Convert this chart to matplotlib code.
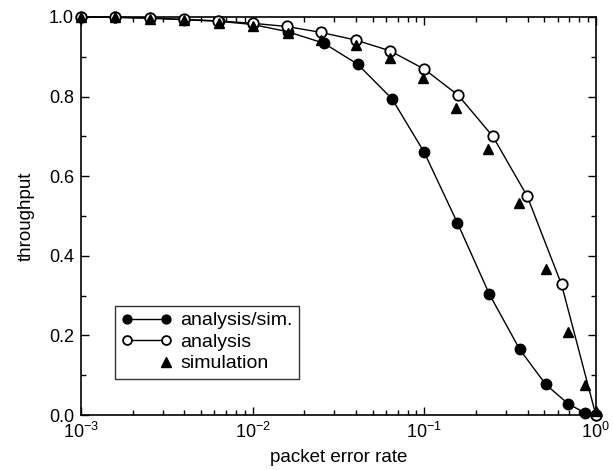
import numpy as np
import matplotlib
matplotlib.use("Agg")
import matplotlib.pyplot as plt
from matplotlib.legend_handler import HandlerLine2D
from matplotlib.ticker import LogLocator, MultipleLocator, FormatStrFormatter

plt.rcParams['font.family'] = ['Liberation Sans', 'DejaVu Sans']
plt.rcParams['mathtext.fontset'] = 'custom'
plt.rcParams['mathtext.rm'] = 'Liberation Sans'
plt.rcParams['mathtext.it'] = 'Liberation Sans'
plt.rcParams['mathtext.default'] = 'regular'

# analysis (open circles)
x_analysis = [0.001, 0.00158, 0.00251, 0.00398, 0.00631, 0.01, 0.0158, 0.0251,
              0.0398, 0.0631, 0.1, 0.158, 0.251, 0.398, 0.631, 1.0]
y_analysis = [1.0, 0.999, 0.997, 0.994, 0.990, 0.984, 0.976, 0.961,
              0.942, 0.915, 0.869, 0.803, 0.700, 0.550, 0.328, 0.0]

# analysis/sim. (filled circles)
x_asim = [0.001, 0.00158, 0.00251, 0.00398, 0.0064, 0.01, 0.016, 0.026,
          0.041, 0.065, 0.1, 0.156, 0.24, 0.36, 0.51, 0.69, 0.86, 1.0]
y_asim = [1.0, 0.999, 0.997, 0.993, 0.989, 0.981, 0.963, 0.934,
          0.881, 0.794, 0.660, 0.483, 0.303, 0.165, 0.077, 0.028, 0.006, 0.0]

# simulation (triangles)
x_sim = [0.001, 0.00158, 0.00251, 0.00398, 0.0064, 0.01, 0.016, 0.025,
         0.04, 0.063, 0.099, 0.153, 0.236, 0.355, 0.515, 0.69, 0.86, 1.0]
y_sim = [1.0, 0.999, 0.996, 0.992, 0.985, 0.976, 0.960, 0.943,
         0.930, 0.896, 0.846, 0.772, 0.668, 0.532, 0.368, 0.209, 0.076, 0.010]

labels = ["analysis/sim.", "analysis", "simulation"]

fig = plt.figure(figsize=(6.13, 4.70), dpi=100)
ax = fig.add_axes([0.132, 0.117, 0.840, 0.847])

l1, = ax.plot(x_asim, y_asim, color='black', lw=1.0, marker='o', ms=7.5,
              mfc='black', mec='black', zorder=3, clip_on=False, label=labels[0])
l2, = ax.plot(x_analysis, y_analysis, color='black', lw=1.0, marker='o', ms=7.5,
              mfc='white', mec='black', mew=1.3, zorder=4, clip_on=False, label=labels[1])
l3, = ax.plot(x_sim, y_sim, ls='none', marker='^', ms=7.8, mfc='black', mec='black',
              zorder=5, clip_on=False, label=labels[2])

ax.set_xscale('log')
ax.set_xlim(1e-3, 1.0)
ax.set_ylim(0.0, 1.0)
ax.xaxis.set_major_locator(LogLocator(base=10, numticks=10))
ax.xaxis.set_minor_locator(LogLocator(base=10, subs=np.arange(2, 10), numticks=10))
ax.yaxis.set_major_locator(MultipleLocator(0.2))
ax.yaxis.set_minor_locator(MultipleLocator(0.1))
ax.yaxis.set_major_formatter(FormatStrFormatter('%.1f'))

ax.tick_params(which='both', direction='in', top=True, right=True, labelsize=13, width=1.0)
ax.tick_params(which='major', length=6)
ax.tick_params(which='minor', length=3.5)
ax.tick_params(axis='x', which='major', pad=5)
ax.tick_params(axis='y', which='major', pad=5)
for s in ax.spines.values():
    s.set_linewidth(1.2)

ax.set_xlabel("packet error rate", fontsize=13.5, labelpad=5)
ax.set_ylabel("throughput", fontsize=13.5, labelpad=10)


class RightMarker(HandlerLine2D):
    def create_artists(self, *args, **kwargs):
        arts = super().create_artists(*args, **kwargs)
        for a in arts:
            a.set_markevery([1])
        return arts


leg = ax.legend(handles=[l1, l2, l3], loc='upper left', bbox_to_anchor=(0.067, 0.275),
                borderaxespad=0.0, fontsize=14, numpoints=2, handlelength=2.6,
                handletextpad=0.4, labelspacing=0.2, borderpad=0.32, markerscale=0.85,
                frameon=True, fancybox=False, handler_map={l3: RightMarker(numpoints=2)})
leg.get_frame().set_edgecolor('black')
leg.get_frame().set_linewidth(1.0)

fig.savefig("out.png", dpi=100)
